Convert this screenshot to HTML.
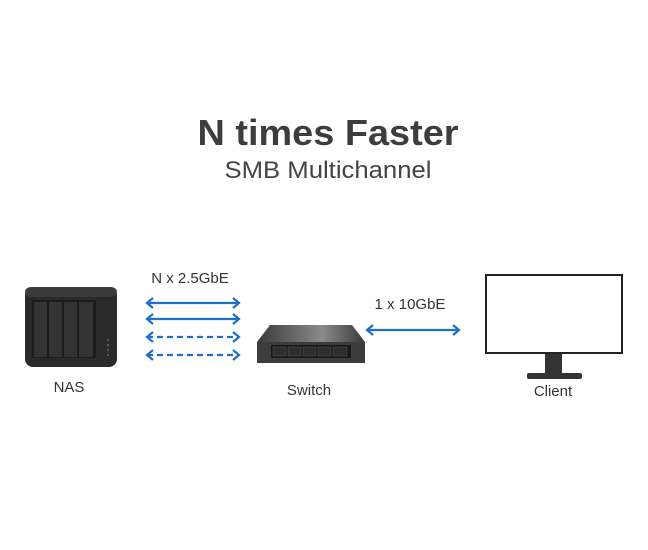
<!DOCTYPE html>
<html><head><style>html,body{margin:0;padding:0;background:#fff;}svg{display:block}</style></head>
<body>
<svg width="648" height="550" viewBox="0 0 648 550" xmlns="http://www.w3.org/2000/svg" font-family="Liberation Sans, sans-serif">
<defs>
<linearGradient id="sw" x1="0" y1="0" x2="1" y2="0"><stop offset="0" stop-color="#3a3a3a"/><stop offset="0.6" stop-color="#8a8a8a"/><stop offset="1" stop-color="#3a3a3a"/></linearGradient>
</defs>
<text x="328" y="145" text-anchor="middle" font-size="36" font-weight="bold" fill="#3d3d3d" textLength="261" lengthAdjust="spacingAndGlyphs">N times Faster</text>
<text x="328" y="178" text-anchor="middle" font-size="24" fill="#444" textLength="207" lengthAdjust="spacingAndGlyphs">SMB Multichannel</text>

<!-- NAS -->
<rect x="25" y="287" width="92" height="80" rx="8" fill="#2a2a2a"/>
<rect x="25" y="287" width="92" height="10" rx="6" fill="#3a3a3a"/>
<rect x="32" y="300" width="64" height="58" fill="#1c1c1c"/>
<rect x="34" y="302" width="13" height="55" fill="#333"/>
<rect x="49" y="302" width="13" height="55" fill="#333"/>
<rect x="64" y="302" width="13" height="55" fill="#333"/>
<rect x="79" y="302" width="14" height="55" fill="#333"/>
<g fill="#9a9a60"><circle cx="108" cy="340" r="0.8"/><circle cx="108" cy="345" r="0.8"/><circle cx="108" cy="350" r="0.8"/><circle cx="108" cy="355" r="0.8"/></g>
<text x="69" y="392" text-anchor="middle" font-size="15" fill="#333">NAS</text>

<!-- arrows -->
<g stroke="#1a6fcf" stroke-width="2.2" fill="none">
<line x1="147" y1="303" x2="239" y2="303"/>
<line x1="147" y1="319" x2="239" y2="319"/>
<line x1="147" y1="337" x2="239" y2="337" stroke-dasharray="6,4"/>
<line x1="147" y1="355" x2="239" y2="355" stroke-dasharray="6,4"/>
<polyline points="153,298 147,303 153,308"/><polyline points="233,298 239,303 233,308"/>
<polyline points="153,314 147,319 153,324"/><polyline points="233,314 239,319 233,324"/>
<polyline points="153,332 147,337 153,342"/><polyline points="233,332 239,337 233,342"/>
<polyline points="153,350 147,355 153,360"/><polyline points="233,350 239,355 233,360"/>
<line x1="367" y1="330" x2="459" y2="330"/>
<polyline points="373,325 367,330 373,335"/><polyline points="453,325 459,330 453,335"/>
</g>
<text x="190" y="283" text-anchor="middle" font-size="15" fill="#333">N x 2.5GbE</text>
<text x="410" y="309" text-anchor="middle" font-size="15" fill="#333">1 x 10GbE</text>

<!-- switch -->
<polygon points="270,325 352,325 365,342 257,342" fill="url(#sw)"/>
<rect x="257" y="342" width="108" height="21" fill="#3c3c3c"/>
<rect x="271" y="345" width="80" height="13" fill="#1a1a1a"/>
<g fill="#2e2e2e" stroke="#555" stroke-width="0.5">
<rect x="273" y="347" width="13" height="9"/><rect x="288" y="347" width="13" height="9"/><rect x="303" y="347" width="13" height="9"/><rect x="318" y="347" width="13" height="9"/><rect x="333" y="347" width="14" height="9"/>
</g>
<text x="309" y="395" text-anchor="middle" font-size="15" fill="#333">Switch</text>

<!-- monitor -->
<rect x="486" y="275" width="136" height="78" fill="#fff" stroke="#222" stroke-width="2"/>
<rect x="545" y="354" width="17" height="20" fill="#333"/>
<rect x="527" y="373" width="55" height="6" rx="2" fill="#333"/>
<text x="553" y="396" text-anchor="middle" font-size="15" fill="#333">Client</text>
</svg>
</body></html>
